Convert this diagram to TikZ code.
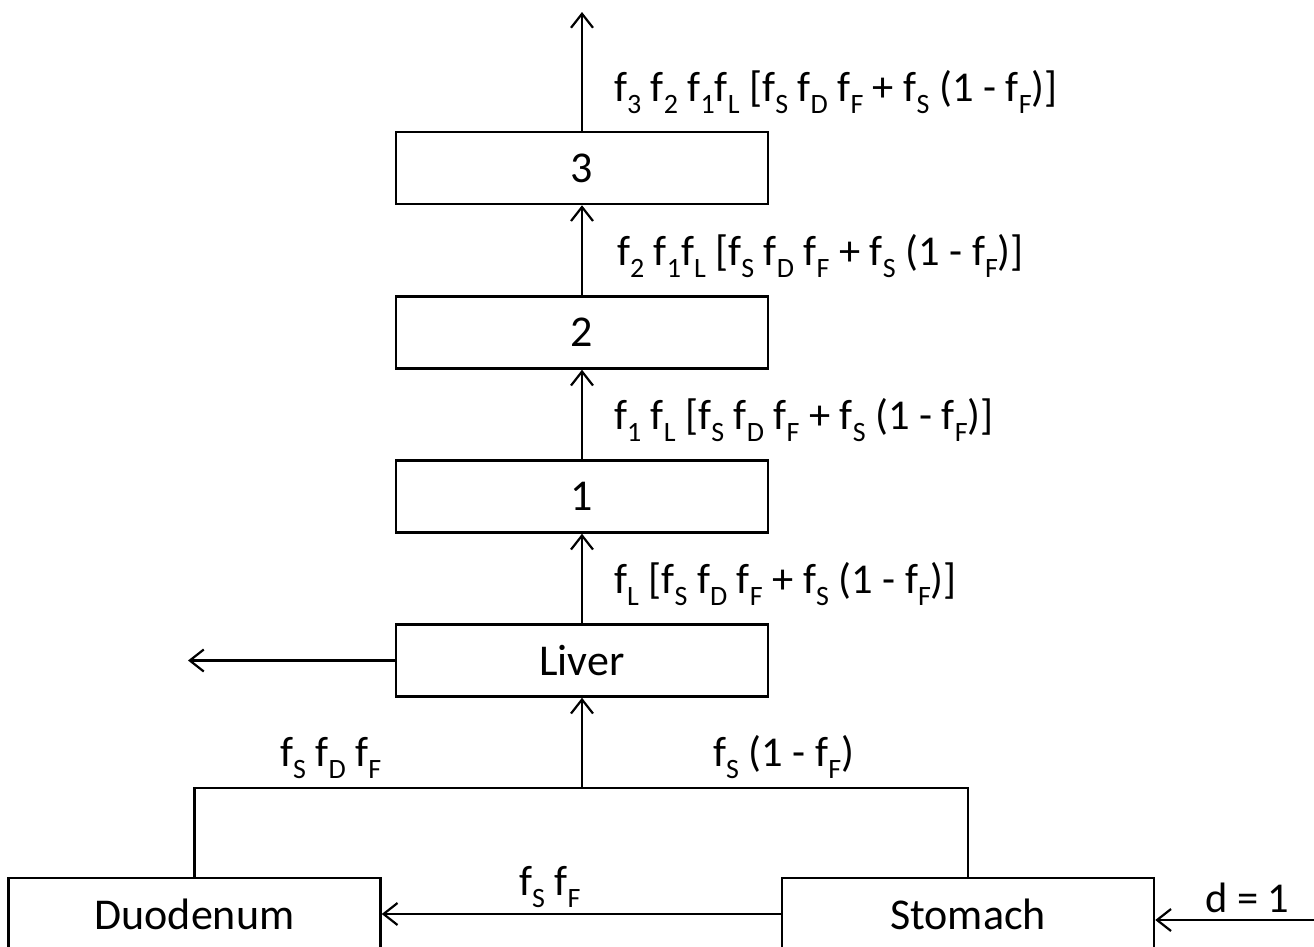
\documentclass[tikz,border=0pt]{standalone}
\usepackage{fontspec}
\setmainfont{Carlito}
\usetikzlibrary{arrows.meta}
\newcommand\sbs[1]{\raisebox{-0.3em}{\fontsize{28}{28}\selectfont #1}}
\tikzset{
  boxnode/.style={draw, line width=2.5pt, minimum width=372pt, minimum height=72pt, inner sep=0pt, font=\fontsize{44}{50}\selectfont},
  lbl/.style={anchor=base west, inner sep=0pt, font=\fontsize{42.5}{48}\selectfont},
  conn/.style={line width=2.5pt, -{Straight Barb[length=14pt,width=22pt,line width=2.2pt]}},
  plain/.style={line width=2.5pt}
}
\begin{document}
\begin{tikzpicture}[x=1pt,y=-1pt]
\useasboundingbox (0,0) rectangle (1314,946);
\node[boxnode] (b3) at (582,168) {3};
\node[boxnode] (b2) at (582,332.5) {2};
\node[boxnode] (b1) at (582,496.5) {1};
\node[boxnode] (liver) at (582,660.5) {Liver};
\node[boxnode] (duo) at (194.5,914) {Duodenum};
\node[boxnode] (sto) at (968,914) {Stomach};
\coordinate (top) at (582,12);
\coordinate (out) at (188,660.5);
\coordinate (junc) at (582,788);
\coordinate (jl) at (194.5,788);
\coordinate (jr) at (968,788);
\coordinate (din) at (1314,920);
\draw[conn] (b3.north) -- (top);
\draw[conn] (b2.north) -- (b3.south);
\draw[conn] (b1.north) -- (b2.south);
\draw[conn] (liver.north) -- (b1.south);
\draw[conn] (liver.west) -- (out);
\draw[conn] (junc) -- (liver.south);
\draw[plain] (duo.north) -- (jl) -- (jr) -- (sto.north);
\draw[conn] (sto.west) -- (duo.east);
\draw[conn] (din) -- (sto.east |- din);
\node[lbl] (l3) at (614,101) {f\sbs{3} f\sbs{2} f\sbs{1}f\sbs{L} [f\sbs{S} f\sbs{D} f\sbs{F} + f\sbs{S} (1 - f\sbs{F})]};
\node[lbl] (l2) at (617,265) {f\sbs{2} f\sbs{1}f\sbs{L} [f\sbs{S} f\sbs{D} f\sbs{F} + f\sbs{S} (1 - f\sbs{F})]};
\node[lbl] (l1) at (614,429) {f\sbs{1} f\sbs{L} [f\sbs{S} f\sbs{D} f\sbs{F} + f\sbs{S} (1 - f\sbs{F})]};
\node[lbl] (lL) at (614,593) {f\sbs{L} [f\sbs{S} f\sbs{D} f\sbs{F} + f\sbs{S} (1 - f\sbs{F})]};
\node[lbl] (ld) at (280,766) {f\sbs{S} f\sbs{D} f\sbs{F}};
\node[lbl] (ls) at (713,766) {f\sbs{S} (1 - f\sbs{F})};
\node[lbl] (lsf) at (519,895) {f\sbs{S} f\sbs{F}};
\node[lbl] (ldose) at (1205,912) {d = 1};
\end{tikzpicture}
\end{document}
